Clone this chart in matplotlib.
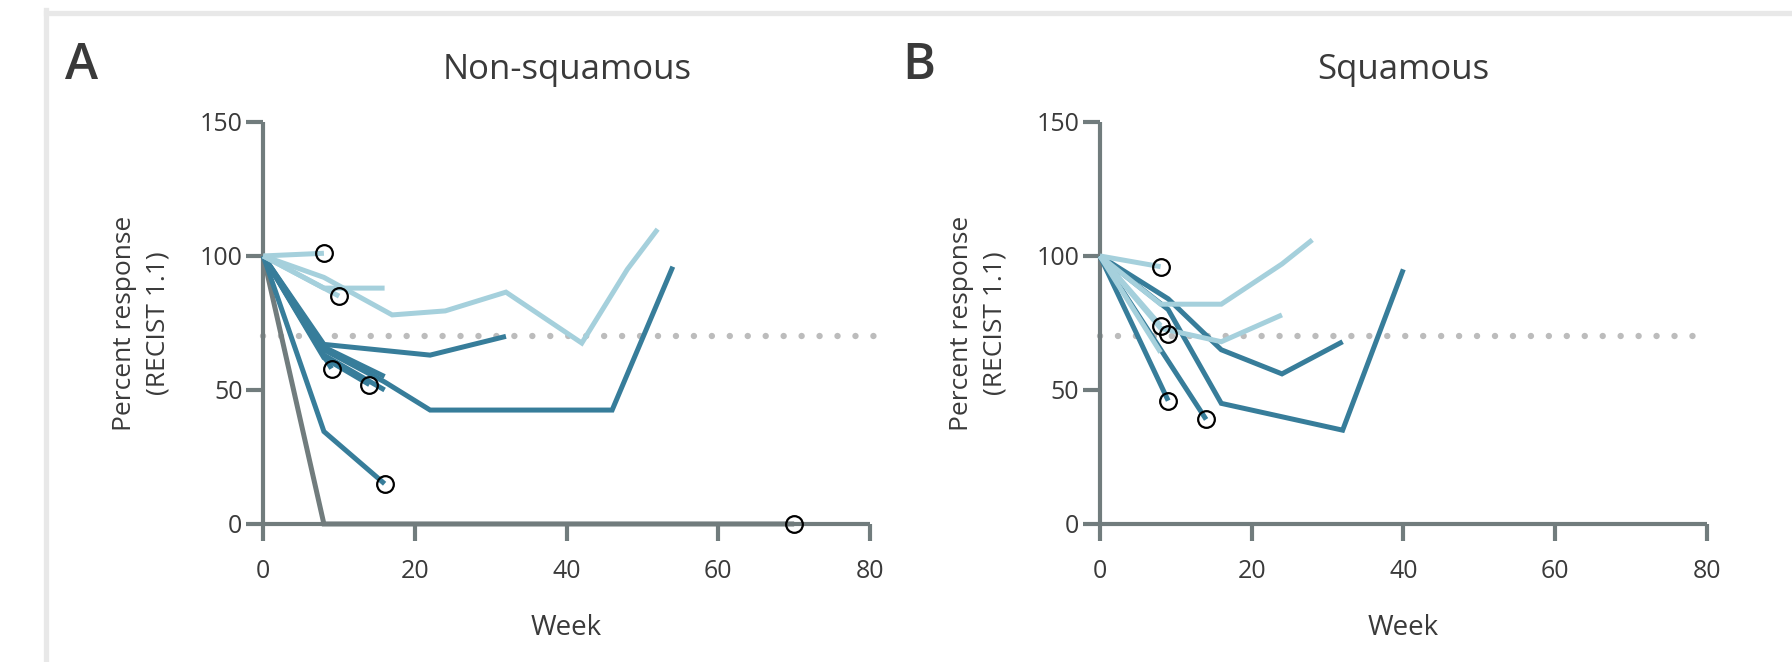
import numpy as np
import matplotlib
matplotlib.use("Agg")
import matplotlib.pyplot as plt
from matplotlib.lines import Line2D


# ============================================================
# DATA (week, percent response)
# ============================================================

a_gray_weeks = [[0, 8, 70]]
a_gray_vals = [[100, 0, 0]]

a_dark_weeks = [
    [0, 8, 22, 32],
    [0, 8, 16, 22, 46, 54],
    [0, 9],
    [0, 8, 14],
    [0, 8, 16],
    [0, 8, 16],
    [0, 8, 16],
]
a_dark_vals = [
    [100, 67, 63, 70],
    [100, 65, 53, 42.5, 42.5, 96],
    [100, 58],
    [100, 62, 52],
    [100, 66, 55],
    [100, 63, 50],
    [100, 34.5, 15],
]

a_light_weeks = [
    [0, 8],
    [0, 8, 16],
    [0, 10],
    [0, 8, 17, 24, 32, 42, 48, 52],
]
a_light_vals = [
    [100, 101],
    [100, 88, 88],
    [100, 85],
    [100, 92, 78, 79.5, 86.5, 67.5, 95, 110],
]

a_circle_weeks = [8, 10, 9, 14, 16, 70]
a_circle_vals = [101, 85, 58, 52, 15, 0]

b_dark_weeks = [
    [0, 9, 16, 24, 32],
    [0, 9, 16, 32, 40],
    [0, 9],
    [0, 14],
]
b_dark_vals = [
    [100, 84, 65, 56, 68],
    [100, 80, 45, 35, 95],
    [100, 46],
    [100, 39],
]

b_light_weeks = [
    [0, 8],
    [0, 8, 16, 24, 28],
    [0, 8, 16, 24],
    [0, 8],
    [0, 8],
]
b_light_vals = [
    [100, 96],
    [100, 82, 82, 97, 106],
    [100, 73, 68, 78],
    [100, 64],
    [100, 74],
]

b_circle_weeks = [8, 8, 9, 9, 14]
b_circle_vals = [96, 74, 71, 46, 39]

threshold = 70
x_ticks = [0, 20, 40, 60, 80]
y_ticks = [0, 50, 100, 150]

# ============================================================
# STYLE
# ============================================================

GRAY = "#717c7d"
DARK = "#377d9a"
LIGHT = "#a5d0dc"
TEXT = "#3a3a3a"
FONT = "Open Sans"

plt.rcParams["font.family"] = [FONT, "DejaVu Sans"]


def draw_panel(ax, groups, circles_w, circles_v):
    for weeks_list, vals_list, color in groups:
        for w, v in zip(weeks_list, vals_list):
            ax.plot(w, v, color=color, lw=3.6, solid_capstyle="butt",
                    solid_joinstyle="miter", clip_on=False, zorder=3)

    ax.plot([0, 80.5], [threshold, threshold], color="#bcbcbc", lw=4.6,
            linestyle=(0, (0.01, 2.8)), dash_capstyle="round", zorder=2,
            clip_on=False)

    ax.plot(circles_w, circles_v, linestyle="none", marker="o", ms=12,
            mfc="none", mec="black", mew=1.6, clip_on=False, zorder=5)

    ax.set_xlim(0, 80)
    ax.set_ylim(0, 150)
    for side in ["top", "right"]:
        ax.spines[side].set_visible(False)
    for side in ["left", "bottom"]:
        ax.spines[side].set_color(GRAY)
        ax.spines[side].set_linewidth(3)
        ax.spines[side].set_capstyle("butt")
    ax.set_xticks(x_ticks)
    ax.set_yticks(y_ticks)
    ax.tick_params(axis="both", colors=GRAY, width=3, length=12,
                   labelsize=18, labelcolor=TEXT)
    ax.tick_params(axis="x", pad=13)
    ax.tick_params(axis="y", pad=3)
    ax.set_xlabel("Week", fontsize=20, color=TEXT, labelpad=22)
    ax.set_ylabel("Percent response\n(RECIST 1.1)", fontsize=19,
                  color=TEXT, labelpad=21, linespacing=1.45)


# ============================================================
# FIGURE
# ============================================================

fig = plt.figure(figsize=(17.92, 6.62), dpi=100)

ax_a = fig.add_axes([0.1469, 0.2085, 0.3386, 0.6073])
ax_b = fig.add_axes([0.6138, 0.2085, 0.3386, 0.6073])

draw_panel(ax_a,
           [(a_gray_weeks, a_gray_vals, GRAY),
            (a_dark_weeks, a_dark_vals, DARK),
            (a_light_weeks, a_light_vals, LIGHT)],
           a_circle_weeks, a_circle_vals)

draw_panel(ax_b,
           [(b_dark_weeks, b_dark_vals, DARK),
            (b_light_weeks, b_light_vals, LIGHT)],
           b_circle_weeks, b_circle_vals)

fig.text(0.3162, 0.895, "Non-squamous", ha="center", va="center",
         fontsize=25, color=TEXT)
fig.text(0.7831, 0.895, "Squamous", ha="center", va="center",
         fontsize=25, color=TEXT)
fig.text(0.0455, 0.900, "A", ha="center", va="center", fontsize=36,
         fontweight="semibold", color=TEXT)
fig.text(0.5125, 0.900, "B", ha="center", va="center", fontsize=36,
         fontweight="semibold", color=TEXT)

# light card border (top and left edges)
fig.add_artist(Line2D([0.0254, 1.0], [1 - 12.5 / 662, 1 - 12.5 / 662],
                      transform=fig.transFigure, color="#e8e8e8", lw=3.8))
fig.add_artist(Line2D([45.5 / 1792, 45.5 / 1792], [0.0, 1 - 10 / 662],
                      transform=fig.transFigure, color="#e8e8e8", lw=3.8))

fig.savefig("out.png", dpi=100, facecolor="white")
